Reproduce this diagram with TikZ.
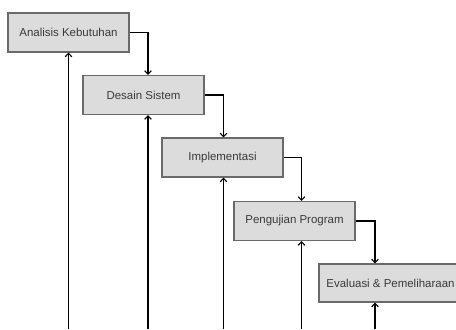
\documentclass[tikz,border=0pt]{standalone}
\usepackage{fontspec}
\setmainfont{Liberation Sans}
\usetikzlibrary{arrows.meta,positioning}
\definecolor{phasefill}{HTML}{DCDCDC}
\definecolor{phaseline}{HTML}{6A6A6A}
\definecolor{phasetext}{HTML}{3A3A3A}

\begin{document}
\begin{tikzpicture}[x=0.75pt,y=-0.75pt,>={Straight Barb[length=2.6pt,width=5pt]},font=\fontsize{8.6}{10}\selectfont,
 phase/.style={draw=phaseline,fill=phasefill,line width=0.8pt,minimum width=90.75pt,minimum height=29.25pt,text=phasetext,inner sep=0pt},
 flow/.style={->,line width=0.85pt}]
\useasboundingbox (0,0) rectangle (456,329);
% tahapan
\node[phase](analisis) at (68.5,32.5){Analisis Kebutuhan};
\node[phase](desain) at (143.5,95){Desain Sistem};
\node[phase](implementasi) at (222.5,157.5){Implementasi};
\node[phase](pengujian) at (294.5,221){Pengujian Program};
\node[phase,minimum width=107.25pt,minimum height=28.5pt](evaluasi) at (390.5,283){Evaluasi \& Pemeliharaan};
% jalur masuk dari bawah
\coordinate (b1) at (68.5,329);
\coordinate (b2) at (148,329);
\coordinate (b3) at (223.5,329);
\coordinate (b4) at (301.5,329);
\coordinate (b5) at (375,329);
% alur turun
\draw[flow](analisis.east) -| (desain.north -| b2);
\draw[flow](desain.east) -| (implementasi.north -| b3);
\draw[flow](implementasi.east) -| (pengujian.north -| b4);
\draw[flow](pengujian.east) -| (evaluasi.north -| b5);
% alur balik
\draw[flow](b1) -- (analisis.south -| b1);
\draw[flow](b2) -- (desain.south -| b2);
\draw[flow](b3) -- (implementasi.south -| b3);
\draw[flow](b4) -- (pengujian.south -| b4);
\draw[flow](b5) -- (evaluasi.south -| b5);
\end{tikzpicture}
\end{document}
